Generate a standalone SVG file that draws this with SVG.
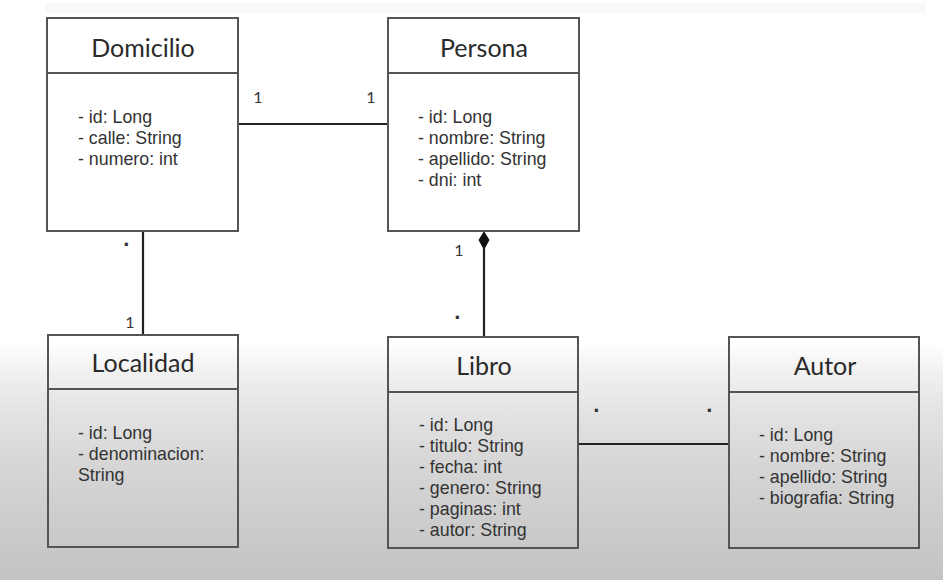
<svg xmlns="http://www.w3.org/2000/svg" width="943" height="580" viewBox="0 0 943 580">
<defs>
<linearGradient id="bg" x1="0" y1="0" x2="0" y2="580" gradientUnits="userSpaceOnUse">
<stop offset="0" stop-color="#ffffff"/>
<stop offset="0.59" stop-color="#ffffff"/>
<stop offset="0.64" stop-color="#f1f1f1"/>
<stop offset="0.71" stop-color="#e3e3e3"/>
<stop offset="0.8" stop-color="#d6d6d6"/>
<stop offset="1" stop-color="#c3c3c3"/>
</linearGradient>
<style>
.box{fill:none;stroke:#555;stroke-width:2}
.div{stroke:#555;stroke-width:2}
.title{font-family:Lato,"Liberation Sans",sans-serif;font-size:25px;fill:#2a2a2a;text-anchor:middle}
.attr{font-family:"Liberation Sans",Arial,sans-serif;font-size:17.8px;fill:#333}
.mult{font-family:Lato,"Liberation Sans",sans-serif;font-size:16px;fill:#333;text-anchor:middle}
.dot{font-family:"Liberation Sans",sans-serif;font-size:22px;font-weight:bold;fill:#333;text-anchor:middle}
.conn{stroke:#222;stroke-width:2.2;fill:none}
</style>
</defs>
<rect x="0" y="0" width="943" height="580" fill="url(#bg)"/>
<rect x="45" y="3" width="880" height="10" fill="#f8f8f8"/>

<g id="connectors">
<line class="conn" x1="238" y1="124" x2="388" y2="124"/>
<line class="conn" x1="143" y1="231" x2="143" y2="335"/>
<line class="conn" x1="484" y1="248" x2="484" y2="337"/>
<path d="M484,232 L489,240 L484,249 L479,240 Z" fill="#111" stroke="#111" stroke-width="1"/>
<line class="conn" x1="578" y1="444" x2="729" y2="444"/>
<text class="mult" x="258" y="103">1</text>
<text class="mult" x="371" y="103">1</text>
<text class="dot" x="127" y="252">·</text>
<text class="mult" x="130" y="328">1</text>
<text class="mult" x="459" y="256">1</text>
<text class="dot" x="458" y="325">·</text>
<text class="dot" x="597" y="418">·</text>
<text class="dot" x="710" y="418">·</text>
</g>

<g id="domicilio">
<rect class="box" x="47" y="18" width="191" height="213"/>
<line class="div" x1="47" y1="73" x2="238" y2="73"/>
<text class="title" x="143" y="57">Domicilio</text>
<text class="attr" x="78" y="123">- id: Long</text>
<text class="attr" x="78" y="144">- calle: String</text>
<text class="attr" x="78" y="165">- numero: int</text>
</g>

<g id="persona">
<rect class="box" x="388" y="18" width="191" height="213"/>
<line class="div" x1="388" y1="73" x2="579" y2="73"/>
<text class="title" x="484" y="57">Persona</text>
<text class="attr" x="418" y="123">- id: Long</text>
<text class="attr" x="418" y="144">- nombre: String</text>
<text class="attr" x="418" y="165">- apellido: String</text>
<text class="attr" x="418" y="186">- dni: int</text>
</g>

<g id="localidad">
<rect class="box" x="48" y="335" width="190" height="212"/>
<line class="div" x1="48" y1="389" x2="238" y2="389"/>
<text class="title" x="143" y="372">Localidad</text>
<text class="attr" x="78" y="439">- id: Long</text>
<text class="attr" x="78" y="460">- denominacion:</text>
<text class="attr" x="78" y="481">String</text>
</g>

<g id="libro">
<rect class="box" x="388" y="337" width="190" height="211"/>
<line class="div" x1="388" y1="392" x2="578" y2="392"/>
<text class="title" x="484" y="375">Libro</text>
<text class="attr" x="419" y="431">- id: Long</text>
<text class="attr" x="419" y="452">- titulo: String</text>
<text class="attr" x="419" y="473">- fecha: int</text>
<text class="attr" x="419" y="494">- genero: String</text>
<text class="attr" x="419" y="515">- paginas: int</text>
<text class="attr" x="419" y="536">- autor: String</text>
</g>

<g id="autor">
<rect class="box" x="729" y="337" width="190" height="211"/>
<line class="div" x1="729" y1="392" x2="919" y2="392"/>
<text class="title" x="825" y="375">Autor</text>
<text class="attr" x="759" y="441">- id: Long</text>
<text class="attr" x="759" y="462">- nombre: String</text>
<text class="attr" x="759" y="483">- apellido: String</text>
<text class="attr" x="759" y="504">- biografia: String</text>
</g>
</svg>
